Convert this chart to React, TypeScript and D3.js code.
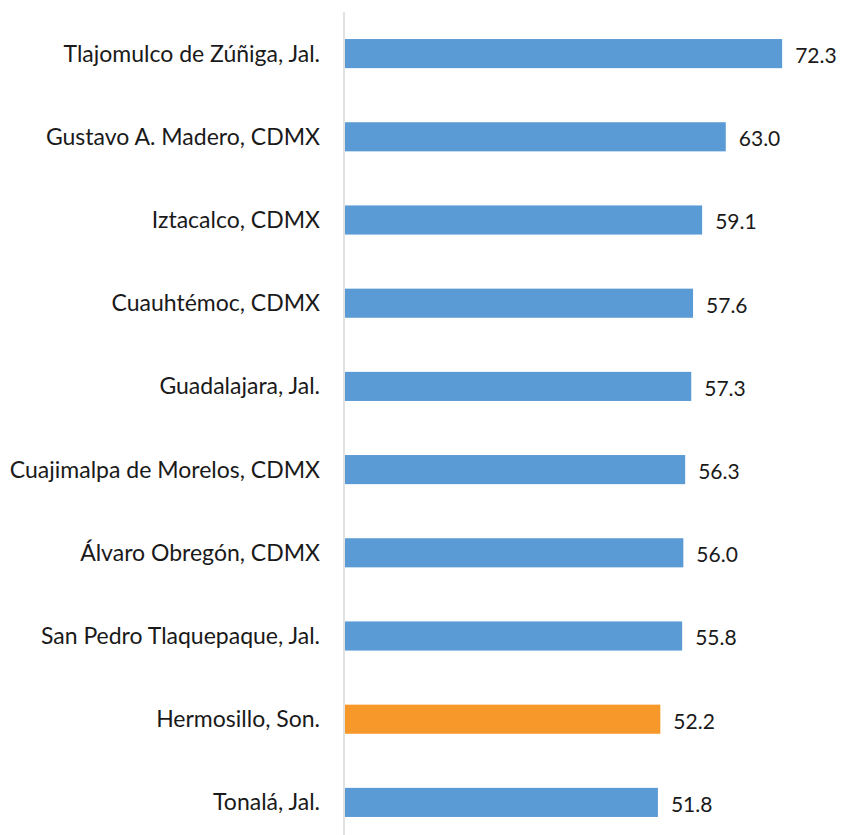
import React from "react";
import * as d3 from "d3";

const categories = [
  "Tlajomulco de Zúñiga, Jal.",
  "Gustavo A. Madero, CDMX",
  "Iztacalco, CDMX",
  "Cuauhtémoc, CDMX",
  "Guadalajara, Jal.",
  "Cuajimalpa de Morelos, CDMX",
  "Álvaro Obregón, CDMX",
  "San Pedro Tlaquepaque, Jal.",
  "Hermosillo, Son.",
  "Tonalá, Jal.",
];
const values = [72.3, 63.0, 59.1, 57.6, 57.3, 56.3, 56.0, 55.8, 52.2, 51.8];
const highlight = "Hermosillo, Son.";

const W = 843;
const H = 835;
const FONT = "Lato, 'Open Sans', sans-serif";

export default function App() {
  const x = d3.scaleLinear().domain([0, 80]).range([344, 344 + 6.06 * 80]);
  const y = d3
    .scaleBand<string>()
    .domain(categories)
    .range([12, 844])
    .paddingInner(0.65)
    .paddingOuter(0.325);
  const bw = y.bandwidth();
  return (
    <div style={{ position: "fixed", left: 0, top: 0 }}>
      <svg width={W} height={H} style={{ display: "block", background: "#fff" }}>
        <line x1={x(0)} x2={x(0)} y1={12} y2={H} stroke="#d9d9d9" strokeWidth={1.5} />
        {categories.map((c, i) => {
          const cy = (y(c) as number) + bw / 2;
          return (
            <g key={c}>
              <rect
                x={x(0) + 1}
                y={y(c)}
                width={x(values[i]) - x(0) - 1}
                height={bw}
                fill={c === highlight ? "#F7982B" : "#5B9BD5"}
              />
              <text
                x={x(0) - 24}
                y={cy}
                dy="0.35em"
                textAnchor="end"
                fontFamily={FONT}
                fontSize={23}
                fill="#1a1a1a"
              >
                {c}
              </text>
              <text
                x={x(values[i]) + 13}
                y={cy + 2}
                dy="0.35em"
                fontFamily={FONT}
                fontSize={21}
                fill="#1a1a1a"
              >
                {d3.format(".1f")(values[i])}
              </text>
            </g>
          );
        })}
      </svg>
    </div>
  );
}
